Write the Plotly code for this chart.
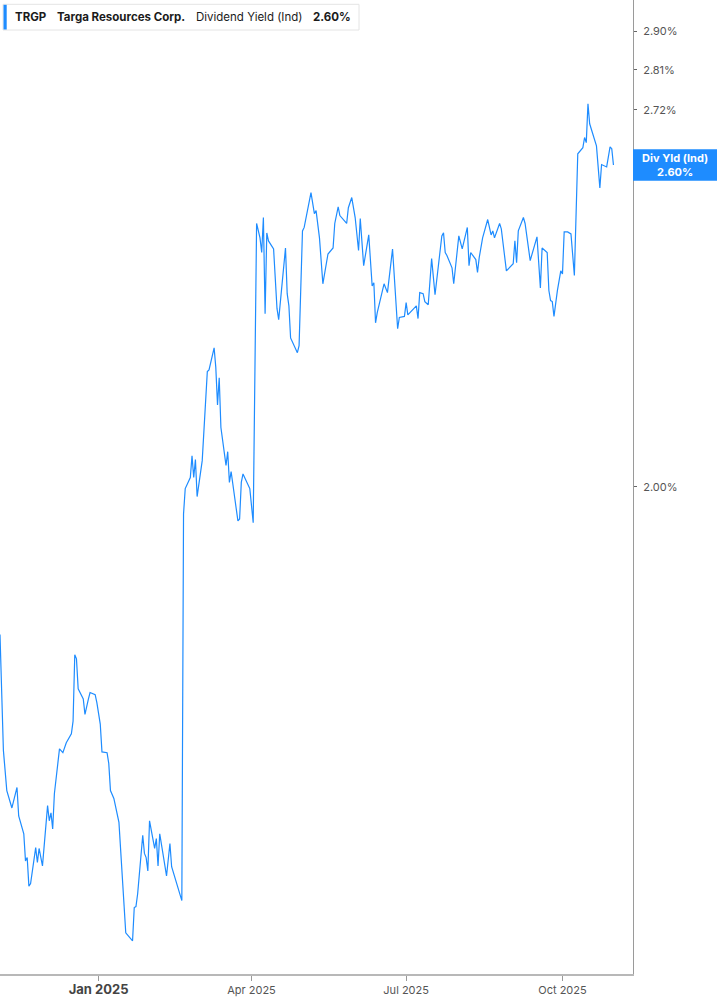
import plotly.graph_objects as go

# ---- data ----
dates = [
    "2024-11-04", "2024-11-06", "2024-11-08", "2024-11-11", "2024-11-14", "2024-11-15", "2024-11-18", "2024-11-19",
    "2024-11-20", "2024-11-21", "2024-11-22", "2024-11-25", "2024-11-26", "2024-11-27", "2024-11-29",
    "2024-12-02", "2024-12-03", "2024-12-04", "2024-12-05", "2024-12-06", "2024-12-09", "2024-12-11", "2024-12-13",
    "2024-12-16", "2024-12-17", "2024-12-18", "2024-12-19", "2024-12-20", "2024-12-23", "2024-12-24", "2024-12-26",
    "2024-12-27", "2024-12-30", "2024-12-31",
    "2025-01-02", "2025-01-03", "2025-01-06", "2025-01-07", "2025-01-08", "2025-01-10", "2025-01-13", "2025-01-14",
    "2025-01-16", "2025-01-17", "2025-01-21", "2025-01-22", "2025-01-23", "2025-01-24", "2025-01-27", "2025-01-28",
    "2025-01-29", "2025-01-30", "2025-01-31",
    "2025-02-03", "2025-02-04", "2025-02-05", "2025-02-06", "2025-02-10", "2025-02-12", "2025-02-13", "2025-02-19",
    "2025-02-20", "2025-02-21", "2025-02-24", "2025-02-25", "2025-02-26", "2025-02-27", "2025-02-28",
    "2025-03-03", "2025-03-04", "2025-03-06", "2025-03-07", "2025-03-10", "2025-03-11", "2025-03-12", "2025-03-13",
    "2025-03-14", "2025-03-17", "2025-03-18", "2025-03-19", "2025-03-20", "2025-03-24", "2025-03-25", "2025-03-26",
    "2025-03-27", "2025-03-31",
    "2025-04-02", "2025-04-04", "2025-04-06", "2025-04-07", "2025-04-08", "2025-04-09", "2025-04-10", "2025-04-11",
    "2025-04-14", "2025-04-16", "2025-04-17", "2025-04-21", "2025-04-22", "2025-04-23", "2025-04-24", "2025-04-28",
    "2025-04-29",
    "2025-05-01", "2025-05-02", "2025-05-06", "2025-05-08", "2025-05-09", "2025-05-11", "2025-05-13", "2025-05-15",
    "2025-05-16", "2025-05-19", "2025-05-20", "2025-05-22", "2025-05-23", "2025-05-27", "2025-05-28", "2025-05-30",
    "2025-06-01", "2025-06-03", "2025-06-04", "2025-06-06", "2025-06-09", "2025-06-11", "2025-06-12", "2025-06-13",
    "2025-06-14", "2025-06-18", "2025-06-20", "2025-06-23", "2025-06-26", "2025-06-27", "2025-06-30",
    "2025-07-01", "2025-07-02", "2025-07-07", "2025-07-08", "2025-07-09", "2025-07-11", "2025-07-12", "2025-07-14",
    "2025-07-16", "2025-07-18", "2025-07-22", "2025-07-23", "2025-07-24", "2025-07-25", "2025-07-28", "2025-07-29",
    "2025-08-01", "2025-08-03", "2025-08-06", "2025-08-07", "2025-08-08", "2025-08-11", "2025-08-12", "2025-08-13",
    "2025-08-15", "2025-08-18", "2025-08-20", "2025-08-21", "2025-08-22", "2025-08-25", "2025-08-26", "2025-08-29",
    "2025-09-02", "2025-09-03", "2025-09-04", "2025-09-05", "2025-09-08", "2025-09-09", "2025-09-12", "2025-09-15",
    "2025-09-16", "2025-09-18", "2025-09-19", "2025-09-22", "2025-09-23", "2025-09-24", "2025-09-25", "2025-09-26",
    "2025-09-28", "2025-09-30",
    "2025-10-01", "2025-10-02", "2025-10-04", "2025-10-06", "2025-10-08", "2025-10-10", "2025-10-13", "2025-10-14",
    "2025-10-15", "2025-10-16", "2025-10-17", "2025-10-21", "2025-10-23", "2025-10-24", "2025-10-27", "2025-10-29",
    "2025-10-30", "2025-10-31",
]

div_yield = [
    1.773, 1.613, 1.561, 1.539, 1.565, 1.529, 1.507, 1.474,
    1.478, 1.444, 1.447, 1.490, 1.472, 1.489, 1.468,
    1.542, 1.523, 1.533, 1.513, 1.557, 1.615, 1.610, 1.623,
    1.635, 1.652, 1.744, 1.738, 1.696, 1.682, 1.661, 1.682,
    1.691, 1.688, 1.677,
    1.648, 1.611, 1.610, 1.596, 1.561, 1.551, 1.521, 1.483,
    1.410, 1.390, 1.381, 1.419, 1.420, 1.435, 1.505, 1.483,
    1.478, 1.462, 1.523,
    1.489, 1.501, 1.468, 1.507, 1.456, 1.495, 1.467, 1.427,
    1.956, 1.997, 2.015, 2.051, 2.015, 2.045, 1.984,
    2.043, 2.099, 2.197, 2.200, 2.240, 2.204, 2.138, 2.186,
    2.099, 2.035, 2.058, 2.007, 2.025, 1.945, 1.948, 2.007,
    2.021, 1.997,
    1.942, 2.479, 2.450, 2.421, 2.491, 2.303, 2.460, 2.444,
    2.428, 2.313, 2.292, 2.430, 2.341, 2.318, 2.258, 2.231,
    2.244,
    2.464, 2.471, 2.542, 2.499, 2.505, 2.450, 2.360, 2.405,
    2.418, 2.430, 2.479, 2.513, 2.495, 2.479, 2.511, 2.532,
    2.491, 2.425, 2.489, 2.395, 2.456, 2.356, 2.362, 2.286,
    2.305, 2.360, 2.343, 2.428, 2.275, 2.296, 2.298,
    2.324, 2.301, 2.318, 2.294, 2.343, 2.341, 2.326, 2.320,
    2.409, 2.339, 2.454, 2.460, 2.421, 2.415, 2.391, 2.360,
    2.454, 2.428, 2.471, 2.395, 2.421, 2.407, 2.382, 2.411,
    2.450, 2.487, 2.456, 2.464, 2.450, 2.479, 2.468, 2.385,
    2.399, 2.444, 2.401, 2.464, 2.491, 2.479, 2.405, 2.444,
    2.452, 2.352, 2.430, 2.421, 2.347, 2.328, 2.326, 2.298,
    2.347, 2.385,
    2.379, 2.462, 2.462, 2.458, 2.376, 2.624, 2.637, 2.659,
    2.648, 2.733, 2.689, 2.641, 2.552, 2.601, 2.596, 2.639,
    2.635, 2.600,
]

x_tick_vals = ["2025-01-01", "2025-04-01", "2025-07-01", "2025-10-01"]
x_tick_text = ['<span style="font-size:13px;font-weight:bold;color:#444">Jan 2025</span>',
               "Apr 2025", "Jul 2025", "Oct 2025"]
y_tick_vals = [2.00, 2.72, 2.81, 2.90]
y_tick_text = ["2.00%", "2.72%", "2.81%", "2.90%"]

ticker = "TRGP"
company = "Targa Resources Corp."
metric = "Dividend Yield (Ind)"
last_label = "2.60%"

# ---- figure ----
W, H = 717, 1005
ML, MR, MT, MB = 0, 84, 0, 31
PW, PH = W - ML - MR, H - MT - MB
BLUE = "#1E8CFF"


def px(xp):
    return xp / PW


def py(yp):
    return 1 - yp / PH


fig = go.Figure()
fig.add_trace(go.Scatter(
    x=dates, y=div_yield, mode="lines",
    line=dict(color=BLUE, width=1.2),
    hoverinfo="skip", showlegend=False,
))

fig.update_layout(
    width=W, height=H,
    margin=dict(l=ML, r=MR, t=MT, b=MB, pad=0),
    paper_bgcolor="white", plot_bgcolor="white",
    font=dict(family="Inter, Roboto, sans-serif", size=11, color="#555"),
    showlegend=False,
    hovermode=False,
    xaxis=dict(
        type="date",
        range=["2024-11-04", "2025-11-11 12:00"],
        showgrid=False, zeroline=False,
        showline=True, linecolor="#b8b8b8", linewidth=2,
        ticks="outside", ticklen=5, tickcolor="#999", tickwidth=1,
        tickvals=x_tick_vals, ticktext=x_tick_text,
        tickfont=dict(family="Inter, Roboto, sans-serif", size=11, color="#555"),
        fixedrange=True,
    ),
    yaxis=dict(
        type="log",
        side="right",
        range=[0.12843, 0.47343],
        showgrid=False, zeroline=False,
        showline=True, linecolor="#9a9a9a", linewidth=1,
        ticks="outside", ticklen=3, tickcolor="#666", tickwidth=1,
        tickvals=y_tick_vals, ticktext=y_tick_text,
        tickfont=dict(family="Inter, Roboto, sans-serif", size=11, color="#555"),
        ticklabelstandoff=4,
        fixedrange=True,
    ),
)

shapes = []
# legend box
shapes.append(dict(type="rect", xref="paper", yref="paper",
                   x0=px(3), x1=px(359), y0=py(30), y1=py(4.3),
                   line=dict(color="#e4e4e4", width=1), fillcolor="white", layer="above"))
shapes.append(dict(type="rect", xref="paper", yref="paper",
                   x0=px(3.5), x1=px(6.7), y0=py(29.5), y1=py(4.8),
                   line=dict(width=0), fillcolor=BLUE, layer="above"))
# last value box
shapes.append(dict(type="rect", xref="paper", yref="paper",
                   x0=1.0, x1=W / PW, y0=py(180.7), y1=py(149.3),
                   line=dict(width=0), fillcolor=BLUE, layer="above"))
fig.update_layout(shapes=shapes)

ann = []
lg_font = dict(family="Inter, Roboto, sans-serif", size=11.5, color="#1b1b1b")
for xx, txt in [(13, f"<b>{ticker}</b>"), (55, f"<b>{company}</b>"),
                (194, metric), (310.5, f"<b>{last_label}</b>")]:
    ann.append(dict(xref="paper", yref="paper", x=px(xx), y=py(17),
                    xanchor="left", yanchor="middle", showarrow=False,
                    text=txt, font=lg_font))
ann.append(dict(xref="paper", yref="paper", x=(PW + W) / 2 / PW, y=py(165.5),
                xanchor="center", yanchor="middle", showarrow=False,
                text=f"<b>Div Yld (Ind)</b><br><b>{last_label}</b>",
                font=dict(family="Inter, Roboto, sans-serif", size=11, color="white")))
fig.update_layout(annotations=ann)

fig.write_html("out.html",
               config={"displayModeBar": False, "staticPlot": True},
               post_script="document.body.style.margin='0px';document.body.style.overflow='hidden';")
